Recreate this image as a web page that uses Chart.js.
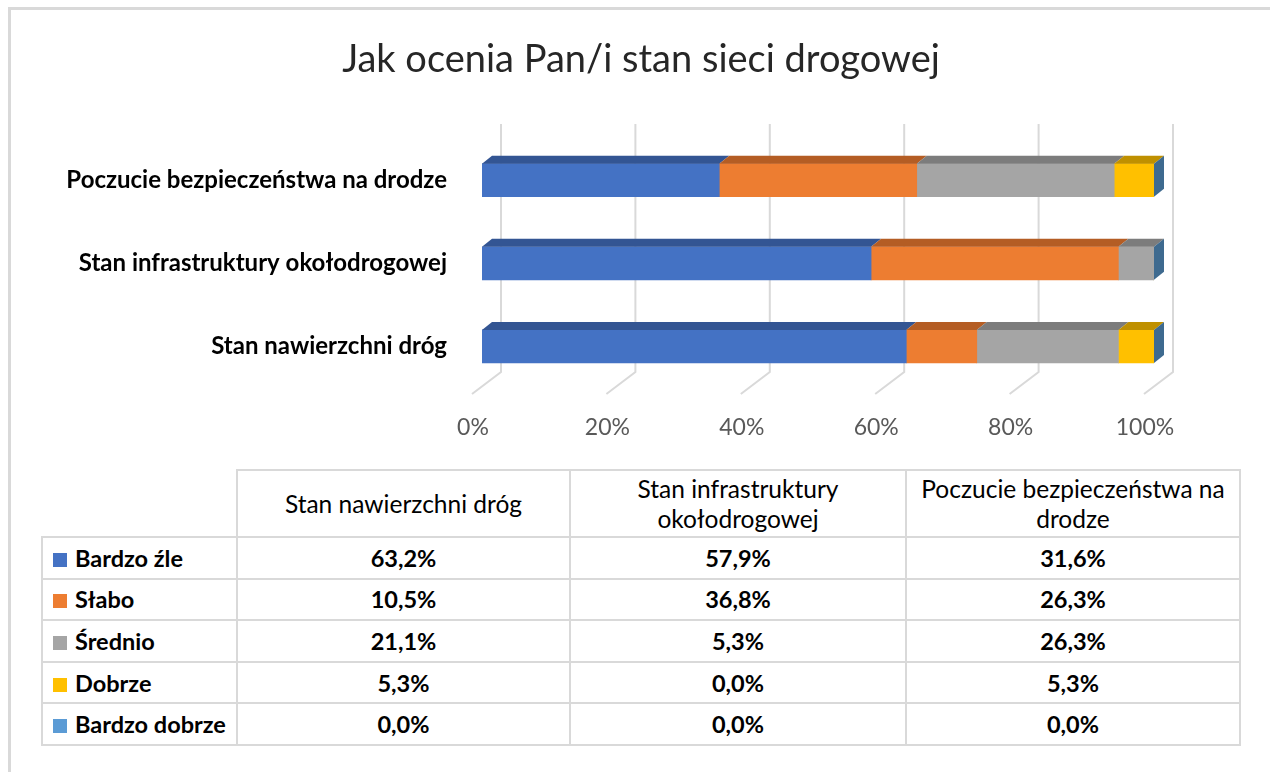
<!DOCTYPE html>
<html>
<head>
<meta charset="utf-8">
<script src="https://cdn.jsdelivr.net/npm/chart.js@4/dist/chart.umd.min.js"></script>
<style>
  html, body { margin: 0; padding: 0; background: #fff; }
  body { width: 1270px; height: 772px; position: relative; overflow: hidden; font-family: Lato, "Open Sans", sans-serif; }
  #frame { position: absolute; left: 8px; top: 7px; width: 1270px; height: 800px; border: 3px solid #d9d9d9; box-sizing: border-box; }
  #wrap { position: absolute; left: 0; top: 0; width: 1270px; height: 460px; }
  #tbl { position: absolute; left: 41px; top: 469px; width: 1198px; table-layout: fixed; border-collapse: collapse; font-size: 23.5px; color: #000; }
  #tbl td { border: 2px solid #d9d9d9; text-align: center; font-weight: bold; padding: 0; }
  #tbl tr.r { height: 41.6px; }
  #tbl tr.h { height: 67px; }
  #tbl th { border: 2px solid #d9d9d9; font-weight: normal; font-size: 24.5px; padding: 0 4px; line-height: 30px; }
  #tbl th.blank { border-top: none; border-left: none; }
  #tbl td.lab { text-align: left; padding-left: 10px; white-space: nowrap; }
  .sq { display: inline-block; width: 14px; height: 14px; margin-right: 8px; vertical-align: 0px; }
</style>
</head>
<body>
<div id="frame"></div>
<div id="wrap"><canvas id="chart" width="1270" height="460"></canvas></div>
<table id="tbl"></table>
<script>
var categories = ['Stan nawierzchni dróg', 'Stan infrastruktury okołodrogowej', 'Poczucie bezpieczeństwa na drodze'];
var seriesNames = ['Bardzo źle', 'Słabo', 'Średnio', 'Dobrze', 'Bardzo dobrze'];
var bardzoZle = [63.2, 57.9, 31.6];
var slabo = [10.5, 36.8, 26.3];
var srednio = [21.1, 5.3, 26.3];
var dobrze = [5.3, 0.0, 5.3];
var bardzoDobrze = [0.0, 0.0, 0.0];
var xTicks = [0, 20, 40, 60, 80, 100];

var series = [bardzoZle, slabo, srednio, dobrze, bardzoDobrze];
var colors = ['#4472C4', '#ED7D31', '#A5A5A5', '#FFC000', '#5B9BD5'];
var topColors = ['#335593', '#B45D24', '#7C7C7C', '#BF9000', '#41719C'];
var sideColor = '#3E6A8F';
var DX = 10, DY = -8;

// 100% stacked: share of each answer within its category
var totals = categories.map(function (c, j) {
  return series.reduce(function (s, arr) { return s + arr[j]; }, 0);
});

var datasets = series.map(function (arr, i) {
  return {
    label: seriesNames[i],
    data: arr.map(function (v, j) { return v / totals[j] * 100; }),
    backgroundColor: colors[i],
    borderWidth: 0,
    barThickness: 33
  };
});

var fake3d = {
  id: 'fake3d',
  beforeDatasetsDraw: function (chart) {
    var ctx = chart.ctx, xs = chart.scales.x;
    ctx.save();
    ctx.strokeStyle = '#d9d9d9';
    ctx.lineWidth = 2;
    xTicks.forEach(function (v) {
      var px = xs.getPixelForValue(v) + 19;
      ctx.beginPath();
      ctx.moveTo(px, 124);
      ctx.lineTo(px, 372);
      ctx.lineTo(px - 29, 394);
      ctx.stroke();
    });
    ctx.restore();
  },
  afterDatasetsDraw: function (chart) {
    var ctx = chart.ctx;
    ctx.save();
    chart.data.datasets.forEach(function (ds, i) {
      chart.getDatasetMeta(i).data.forEach(function (el) {
        var p = el.getProps(['x', 'y', 'base', 'height'], true);
        var top = p.y - p.height / 2;
        if (p.x - p.base < 0.5) return;
        ctx.fillStyle = topColors[i];
        ctx.beginPath();
        ctx.moveTo(p.base, top);
        ctx.lineTo(p.x, top);
        ctx.lineTo(p.x + DX, top + DY);
        ctx.lineTo(p.base + DX, top + DY);
        ctx.closePath();
        ctx.fill();
      });
    });
    var last = chart.getDatasetMeta(chart.data.datasets.length - 1);
    last.data.forEach(function (el) {
      var p = el.getProps(['x', 'y', 'height'], true);
      var top = p.y - p.height / 2, bot = p.y + p.height / 2;
      ctx.fillStyle = sideColor;
      ctx.beginPath();
      ctx.moveTo(p.x, top);
      ctx.lineTo(p.x + DX, top + DY);
      ctx.lineTo(p.x + DX, bot + DY);
      ctx.lineTo(p.x, bot);
      ctx.closePath();
      ctx.fill();
    });
    ctx.restore();
  }
};

new Chart(document.getElementById('chart'), {
  type: 'bar',
  data: { labels: categories, datasets: datasets },
  options: {
    indexAxis: 'y',
    responsive: false,
    animation: false,
    layout: { padding: { left: 64, right: 52, top: 0, bottom: 20 } },
    plugins: {
      legend: { display: false },
      tooltip: { enabled: false },
      title: {
        display: true,
        text: 'Jak ocenia Pan/i stan sieci drogowej',
        color: '#262626',
        font: { family: 'Lato', size: 38, weight: 'normal', lineHeight: 1.2 },
        padding: { top: 37, bottom: 56 }
      }
    },
    scales: {
      x: {
        stacked: true,
        min: 0,
        max: 100,
        grid: { display: false, drawTicks: false },
        border: { display: false },
        afterBuildTicks: function (s) { s.ticks = xTicks.map(function (v) { return { value: v }; }); },
        afterFit: function (s) { s.height = 52; },
        ticks: {
          callback: function (v) { return v + '%'; },
          color: '#595959',
          font: { family: 'Lato', size: 23 },
          padding: 26,
          labelOffset: -9,
          maxRotation: 0
        }
      },
      y: {
        stacked: true,
        reverse: true,
        grid: { display: false, drawTicks: false },
        border: { display: false },
        afterFit: function (s) { s.width = 418; },
        ticks: {
          color: '#000',
          font: { family: 'Lato', size: 24, weight: 'bold' },
          padding: 35
        }
      },
      yRight: {
        position: 'right',
        grid: { display: false, drawTicks: false },
        border: { display: false },
        ticks: { display: false },
        afterFit: function (s) { s.width = 64; }
      }
    }
  },
  plugins: [fake3d]
});

// data table under the chart
var tbl = document.getElementById('tbl');
var colW = [195, 333, 336, 334];
var head = '<colgroup>' + colW.map(function (w) { return '<col style="width:' + w + 'px">'; }).join('') + '</colgroup>' +
  '<tr class="h"><th class="blank"></th>' +
  ['Stan nawierzchni dróg', 'Stan infrastruktury<br>okołodrogowej', 'Poczucie bezpieczeństwa na<br>drodze']
    .map(function (h) { return '<th>' + h + '</th>'; }).join('') + '</tr>';
var rows = series.map(function (arr, i) {
  return '<tr class="r"><td class="lab"><span class="sq" style="background:' + colors[i] + '"></span>' + seriesNames[i] + '</td>' +
    arr.map(function (v) { return '<td>' + v.toFixed(1).replace('.', ',') + '%</td>'; }).join('') + '</tr>';
}).join('');
tbl.innerHTML = head + rows;
</script>
</body>
</html>
